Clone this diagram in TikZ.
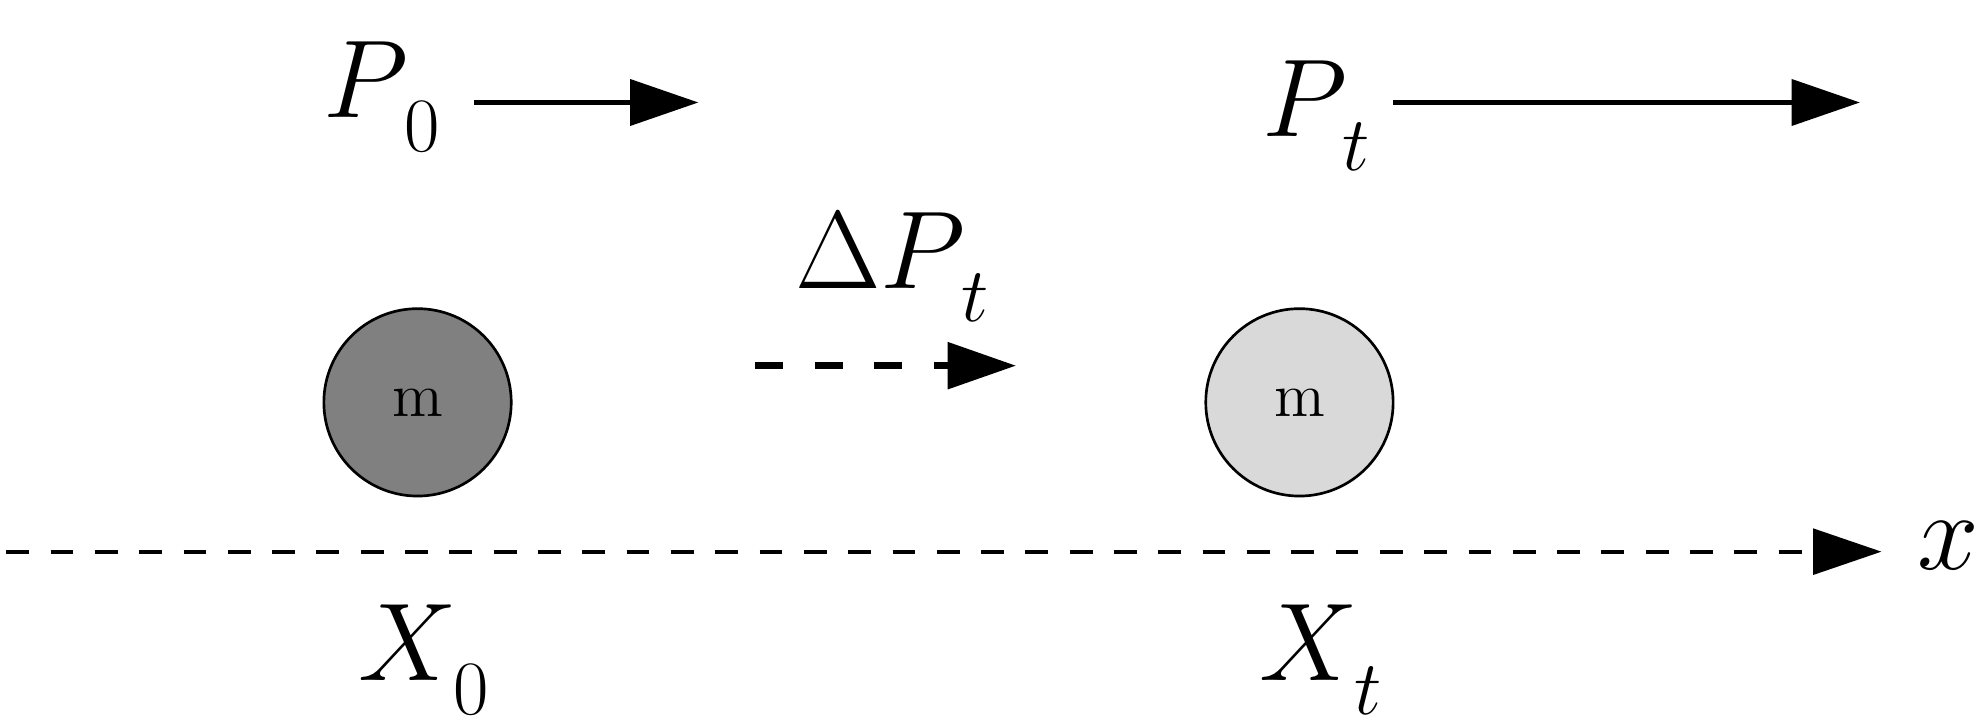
\documentclass[tikz,border=0pt]{standalone}
\usetikzlibrary{arrows.meta}
\begin{document}
\begin{tikzpicture}[x=0.01cm,y=-0.01cm,
  big/.style={inner sep=0pt,anchor=base west,font=\fontsize{28}{28}\selectfont},
  arr/.style={line width=1.2pt,-{Triangle[length=0.54cm,width=0.36cm]}},
  dsh/.style={dash pattern=on 0.22cm off 0.25cm},
  dsh2/.style={dash pattern=on 0.18cm off 0.17cm},
  ball/.style={circle,draw,line width=0.6pt,minimum size=1.48cm,inner sep=0pt,font=\fontsize{14}{14}\selectfont}]
\newcommand{\sbs}[1]{\kern-1pt\raisebox{-7.5pt}{\fontsize{19}{19}\selectfont$#1$}}
\useasboundingbox (0,0) rectangle (1568,573);
\node[big] (p0) at (255,93) {$P$\sbs{0}};
\node[big] (pt) at (997,108) {$P$\sbs{t}};
\node[big] (dp) at (628,228) {$\Delta P$\sbs{t}};
\node[big] (x0) at (283,538) {$X$\sbs{0}};
\node[big] (xt) at (995,538) {$X$\sbs{t}};
\node[big] (xl) at (1515,450) {$x$};
\coordinate (a1s) at (375,81); \coordinate (a1e) at (552,81);
\coordinate (a2s) at (1101,81); \coordinate (a2e) at (1470,81);
\coordinate (a3s) at (597,289); \coordinate (a3e) at (803,289);
\coordinate (axs) at (5,436); \coordinate (axe) at (1487,436);
\draw[arr] (a1s) -- (a1e);
\draw[arr] (a2s) -- (a2e);
\draw[arr,line width=1.6pt,dsh] (a3s) -- (a3e);
\draw[arr,dsh2,line width=0.9pt] (axs) -- (axe);
\node[ball,fill=black!50] (m1) at (330,318) {m};
\node[ball,fill=black!15] (m2) at (1027,318) {m};
\end{tikzpicture}
\end{document}
